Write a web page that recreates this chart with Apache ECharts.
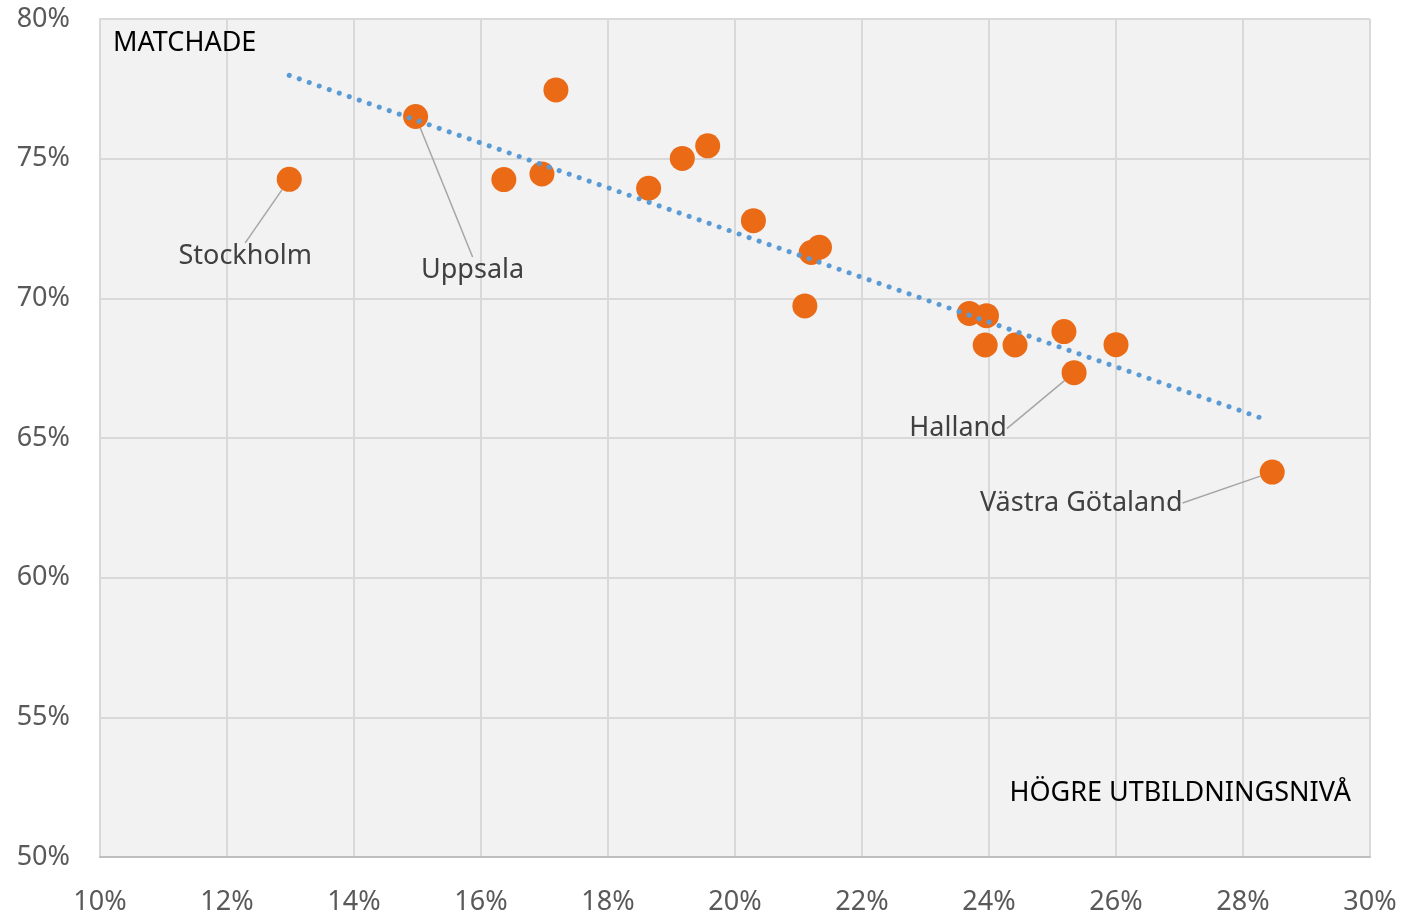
<!DOCTYPE html>
<html>
<head>
    <meta charset="utf-8">
    <title>Matchade vs högre utbildningsnivå</title>
    <script type="text/javascript" src="https://cdn.jsdelivr.net/npm/echarts@6/dist/echarts.min.js"></script>
    <style>
        html, body { margin: 0; padding: 0; background: #fff; }
    </style>
</head>
<body>
    <div id="main" style="width:1403px; height:916px;"></div>
    <script type="text/javascript">

    // andel med högre utbildningsnivå (%), per län
    var xVals = [12.98, 14.97, 17.18, 16.36, 16.96, 18.64, 19.17, 19.57, 20.29, 21.20,
                 21.33, 21.10, 23.69, 23.96, 23.94, 24.41, 25.18, 26.00, 25.34, 28.46];
    // andel matchade (%)
    var yVals = [74.26, 76.51, 77.46, 74.25, 74.45, 73.94, 75.01, 75.46, 72.78, 71.64,
                 71.83, 69.73, 69.46, 69.38, 68.33, 68.33, 68.81, 68.34, 67.34, 63.78];
    // namn visas bara för några län
    var names = ['Stockholm', 'Uppsala', '', '', '', '', '', '', '', '',
                 '', '', '', '', '', '', '', '', 'Halland', 'Västra Götaland'];
    // linjär trendlinje (ändpunkter avlästa)
    var trendX = [12.98, 28.38];
    var trendY = [77.98, 65.64];

    var xTicks = {min: 10, max: 30, interval: 2};
    var yTicks = {min: 50, max: 80, interval: 5};

    // förskjutning av etiketterna från punkten
    var labelShift = {
        0: [-44, 77],
        1: [57, 154],
        18: [-116, 56],
        19: [-191, 31]
    };

    var pts = xVals.map(function (x, i) {
        var item = {value: [x, yVals[i]]};
        if (names[i]) {
            item.name = names[i];
            item.label = {show: true, formatter: '{b}'};
            item.labelLine = {show: true};
        }
        return item;
    });

    var trend = trendX.map(function (x, i) { return [x, trendY[i]]; });

    var font = '"Noto Sans", sans-serif';
    var myChart = echarts.init(document.getElementById('main'));

    var option = {
        backgroundColor: '#fff',
        animation: false,
        grid: {
            left: 100,
            right: 33,
            top: 19,
            bottom: 57,
            show: true,
            backgroundColor: '#f2f2f2',
            borderWidth: 0
        },
        xAxis: {
            type: 'value',
            min: xTicks.min,
            max: xTicks.max,
            interval: xTicks.interval,
            axisLine: {lineStyle: {color: '#bfbfbf', width: 2}},
            axisTick: {show: false},
            axisLabel: {
                formatter: '{value}%',
                color: '#595959',
                fontFamily: font,
                fontSize: 27,
                margin: 32
            },
            splitLine: {show: true, lineStyle: {color: '#d9d9d9', width: 2}}
        },
        yAxis: {
            type: 'value',
            min: yTicks.min,
            max: yTicks.max,
            interval: yTicks.interval,
            axisLine: {show: true, lineStyle: {color: '#d9d9d9', width: 2}},
            axisTick: {show: false},
            axisLabel: {
                formatter: '{value}%',
                color: '#595959',
                fontFamily: font,
                fontSize: 27,
                margin: 30
            },
            splitLine: {show: true, lineStyle: {color: '#d9d9d9', width: 2}}
        },
        graphic: [
            {
                type: 'text',
                left: 113,
                top: 30,
                z: 100,
                style: {text: 'MATCHADE', fill: '#000', font: '27px ' + font}
            },
            {
                type: 'text',
                right: 52,
                top: 780,
                z: 100,
                style: {text: 'HÖGRE UTBILDNINGSNIVÅ', fill: '#000', font: '27px ' + font}
            }
        ],
        series: [
            {
                name: 'Trend',
                type: 'line',
                data: trend,
                symbol: 'none',
                z: 3,
                lineStyle: {
                    color: '#5b9bd5',
                    width: 5,
                    type: [0.1, 10.5],
                    cap: 'round'
                }
            },
            {
                name: 'Län',
                type: 'scatter',
                data: pts,
                symbolSize: 25,
                z: 2,
                itemStyle: {color: '#ea6a16', opacity: 1},
                label: {
                    show: false,
                    position: 'inside',
                    color: '#404040',
                    fontFamily: font,
                    fontSize: 27
                },
                labelLine: {
                    show: false,
                    lineStyle: {color: '#a6a6a6', width: 1.5}
                },
                labelLayout: function (params) {
                    var s = labelShift[params.dataIndex];
                    if (!s) return {};
                    return {dx: s[0], dy: s[1]};
                }
            }
        ]
    };

    myChart.setOption(option);
    </script>
</body>
</html>
